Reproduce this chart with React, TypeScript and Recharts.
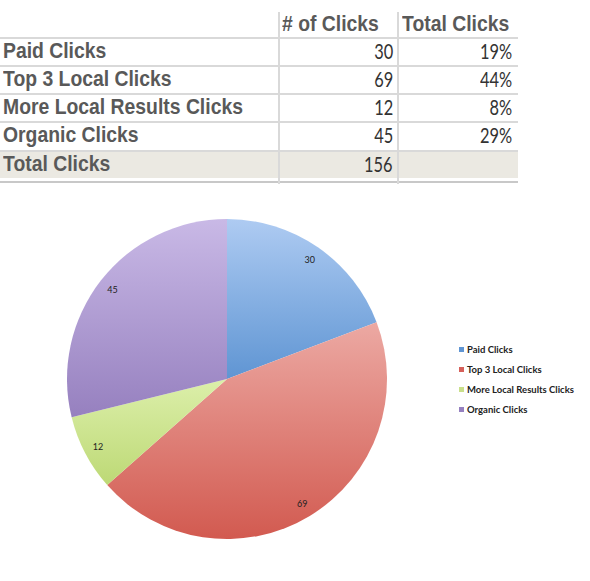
import { PieChart, Pie, Cell, Legend } from 'recharts';

const categories = ['Paid Clicks', 'Top 3 Local Clicks', 'More Local Results Clicks', 'Organic Clicks'];
const clicks = [30, 69, 12, 45];
const headers = ['# of Clicks', 'Total Clicks'];
const totalLabel = 'Total Clicks';

const sliceTop = ['#aecbf2', '#eca9a3', '#dcefaa', '#c9b9e6'];
const sliceBottom = ['#5f95d3', '#d25a50', '#bdd975', '#9680bf'];
const legendColors = ['#5f95d3', '#d6605a', '#c9df8a', '#9580c0'];

const total = clicks.reduce((a, b) => a + b, 0);
const pieData = categories.map((name, i) => ({ name, value: clicks[i] }));

const RAD = Math.PI / 180;
const GRID = '#d9d9d9';
const labelFont = '"Liberation Sans", Arial, sans-serif';
const numFont = 'Lato, "Open Sans", sans-serif';

const rowTop = [37, 65, 93, 121];

function SliceLabel(props: any) {
  const { cx, cy, midAngle, outerRadius, value } = props;
  const r = outerRadius * 0.91;
  const x = cx + r * Math.cos(-midAngle * RAD);
  const y = cy + r * Math.sin(-midAngle * RAD);
  return (
    <text x={x} y={y} textAnchor="middle" dominantBaseline="central" fontSize={9} fontFamily={numFont} fill="#222">
      {value}
    </text>
  );
}

function LegendBox() {
  return (
    <div style={{ fontFamily: numFont, fontSize: 9.5, fontWeight: 700, color: '#222' }}>
      {categories.map((c, i) => (
        <div key={c} style={{ display: 'flex', alignItems: 'center', height: 20 }}>
          <span style={{ width: 5, height: 5, background: legendColors[i], marginRight: 3 }} />
          <span>{c}</span>
        </div>
      ))}
    </div>
  );
}

function Table() {
  const text = (s: string, x: number, y: number, opts: any) => (
    <div
      style={{
        position: 'absolute',
        top: y,
        height: 28,
        lineHeight: '28px',
        whiteSpace: 'nowrap',
        ...(opts.right ? { right: 590 - x } : { left: x }),
        transform: `scaleX(${opts.scale})`,
        transformOrigin: opts.right ? 'right center' : 'left center',
        fontFamily: opts.font,
        fontSize: opts.size,
        fontWeight: opts.bold ? 700 : 400,
        color: opts.color,
      }}
    >
      {s}
    </div>
  );
  const lab = { font: labelFont, size: 22, bold: true, color: '#595959', scale: 0.88 };
  const num = { font: numFont, size: 21, bold: false, color: '#333', scale: 0.78, right: true };
  return (
    <div style={{ position: 'absolute', left: 0, top: 0, width: 590, height: 190 }}>
      <div style={{ position: 'absolute', left: 0, top: 150, width: 518, height: 28, background: '#ebe9e2' }} />
      {[37, 65, 93, 121, 150].map((y) => (
        <div key={y} style={{ position: 'absolute', left: 0, top: y, width: 518, height: 1.5, background: GRID }} />
      ))}
      <div style={{ position: 'absolute', left: 0, top: 181, width: 518, height: 2, background: '#c8c8c8' }} />
      {[278, 397].map((x) => (
        <div key={x} style={{ position: 'absolute', left: x, top: 12, width: 1.5, height: 172, background: GRID }} />
      ))}
      {text(headers[0], 282, 10, lab)}
      {text(headers[1], 402, 10, lab)}
      {categories.map((c, i) => (
        <div key={c}>
          {text(c, 3, rowTop[i], lab)}
          {text(String(clicks[i]), 393, rowTop[i], num)}
          {text(Math.round((clicks[i] / total) * 100) + '%', 512, rowTop[i], num)}
        </div>
      ))}
      {text(totalLabel, 3, 150, lab)}
      {text(String(total), 393, 150, num)}
    </div>
  );
}

export default function App() {
  return (
    <div style={{ position: 'absolute', left: 0, top: 0, width: 590, height: 581, background: '#fff', overflow: 'hidden' }}>
      <Table />
      <div style={{ position: 'absolute', left: 0, top: 190 }}>
        <PieChart width={590} height={391} margin={{ top: 0, right: 0, bottom: 0, left: 0 }}>
          <defs>
            {sliceTop.map((c, i) => (
              <linearGradient key={i} id={`slice${i}`} x1="0" y1="0" x2="0" y2="1">
                <stop offset="0%" stopColor={c} />
                <stop offset="100%" stopColor={sliceBottom[i]} />
              </linearGradient>
            ))}
          </defs>
          <Pie
            data={pieData}
            dataKey="value"
            nameKey="name"
            cx={227}
            cy={189}
            outerRadius={160}
            startAngle={90}
            endAngle={-270}
            stroke="none"
            labelLine={false}
            label={SliceLabel}
            isAnimationActive={false}
          >
            {pieData.map((d, i) => (
              <Cell key={d.name} fill={`url(#slice${i})`} />
            ))}
          </Pie>
          <Legend
            layout="vertical"
            content={() => <LegendBox />}
            wrapperStyle={{ left: 459, top: 149, width: 130, bottom: 'auto' }}
          />
        </PieChart>
      </div>
    </div>
  );
}
